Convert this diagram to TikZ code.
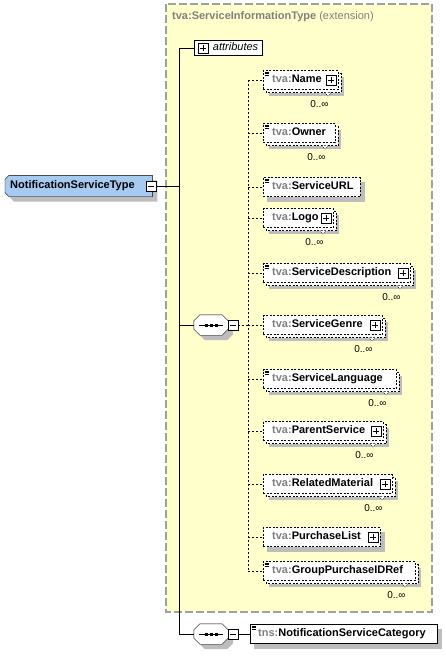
\documentclass[tikz,border=0pt]{standalone}
\usepackage{fontspec}
\setmainfont{Liberation Sans}
\definecolor{basefill}{HTML}{FFFFCC}
\definecolor{baseedge}{HTML}{A0A0A0}
\definecolor{rootfill}{HTML}{A6CAF0}
\definecolor{prefix}{HTML}{808080}
\definecolor{shadowgray}{HTML}{BDBDBD}
\pgfdeclarelayer{basebg}
\pgfdeclarelayer{shadows}
\pgfsetlayers{basebg,shadows,main}
\tikzset{
  elem/.style={draw, fill=white, anchor=west, align=left,
    font=\fontsize{11}{13}\selectfont\bfseries, inner xsep=9pt, inner ysep=0pt,
    text height=8pt, text depth=3pt, minimum height=19pt,
    dash pattern=on 2pt off 1.5pt},
  mult/.style={font=\fontsize{10}{11}\selectfont, inner sep=0pt},
  plusbox/.style={draw, solid, fill=white, minimum size=10pt, inner sep=0pt,
    path picture={
      \draw ([xshift=2pt]path picture bounding box.west) -- ([xshift=-2pt]path picture bounding box.east);
      \draw ([yshift=-2pt]path picture bounding box.north) -- ([yshift=2pt]path picture bounding box.south);}},
  minusbox/.style={draw, fill=white, minimum size=10pt, inner sep=0pt,
    path picture={
      \draw ([xshift=2pt]path picture bounding box.west) -- ([xshift=-2pt]path picture bounding box.east);}},
  seqbox/.style={minimum width=34pt, minimum height=20pt, inner sep=0pt},
  dlink/.style={dash pattern=on 2pt off 2pt},
}
\begin{document}
\begin{tikzpicture}[x=1pt, y=-1pt]
\useasboundingbox (0,0) rectangle (445,656);
% base type
\begin{pgfonlayer}{basebg}
\draw[fill=basefill, draw=baseedge, line width=1.2pt, dash pattern=on 8pt off 3pt] (166,4) rectangle (432,612);
\end{pgfonlayer}
\node[anchor=west, font=\fontsize{11}{13}\selectfont, inner sep=0pt] (basetitle) at (172,17)
  {\textcolor{prefix}{\bfseries tva:ServiceInformationType} \textcolor{prefix}{(extension)}};

% root
\node[anchor=west, align=left, text width=137pt, inner xsep=5pt, inner ysep=0pt,
  minimum height=21pt, text height=8pt, text depth=3pt,
  font=\fontsize{11}{13}\selectfont\bfseries] (root) at (5,186) {NotificationServiceType};
\node[minusbox] (rootm) at (151,186) {};

\node[draw, fill=white, anchor=west, text width=60pt, align=right, inner xsep=4pt, inner ysep=0pt,
  minimum height=15pt, text height=8pt, text depth=3pt,
  font=\fontsize{11}{13}\selectfont\itshape] (attr) at (194,48) {attributes};
\node[plusbox] (attrp) at (203,48) {};

\node[seqbox] (seqa) at (211,325) {};
\node[seqbox] (seqb) at (211,634) {};

% shadows of the element boxes (left edge, centre y, width)
\foreach \l/\y/\w in {263/187/97, 263/537/117, 250/634/187}
  \fill[shadowgray] (\l+4,\y-5.5) rectangle (\l+\w+5,\y+14.5);
\foreach \l/\y/\w in {263/80/75, 263/133/72, 263/218/70, 263/273/147, 263/325/119,
    263/379/133, 263/431/120, 263/484/129, 263/571/152} {
  \fill[shadowgray] (\l+6,\y-3.5) rectangle (\l+\w+6,\y+15.5);
  \draw[fill=white, dash pattern=on 2pt off 1.5pt] (\l+3,\y-6.5) rectangle (\l+\w+3,\y+12.5);
  \draw[fill=white, dash pattern=on 1pt off 1pt] (\l+\w-13,\y+12.5) -- (\l+\w-10,\y+16) -- (\l+\w-7,\y+12.5);
}

% elements
\node[elem, text width=57pt] (name) at (263,80) {\textcolor{prefix}{tva:}Name};
\node[elem, text width=54pt] (owner) at (263,133) {\textcolor{prefix}{tva:}Owner};
\node[elem, text width=79pt] (url) at (263,187) {\textcolor{prefix}{tva:}ServiceURL};
\node[elem, text width=52pt] (logo) at (263,218) {\textcolor{prefix}{tva:}Logo};
\node[elem, text width=129pt] (descr) at (263,273) {\textcolor{prefix}{tva:}ServiceDescription};
\node[elem, text width=101pt] (genre) at (263,325) {\textcolor{prefix}{tva:}ServiceGenre};
\node[elem, text width=115pt] (lang) at (263,379) {\textcolor{prefix}{tva:}ServiceLanguage};
\node[elem, text width=102pt] (parent) at (263,431) {\textcolor{prefix}{tva:}ParentService};
\node[elem, text width=111pt] (related) at (263,484) {\textcolor{prefix}{tva:}RelatedMaterial};
\node[elem, text width=99pt] (purchase) at (263,537) {\textcolor{prefix}{tva:}PurchaseList};
\node[elem, text width=134pt] (group) at (263,571) {\textcolor{prefix}{tva:}GroupPurchaseIDRef};
\node[elem, solid, inner xsep=8pt, text width=171pt] (category) at (250,634)
  {\textcolor{prefix}{tns:}NotificationServiceCategory};

% root and sequence outlines
\begin{pgfonlayer}{shadows}
\fill[shadowgray] ([shift={(9,5)}]root.north west) -- ([shift={(5,5)}]root.north east)
  -- ([shift={(5,5)}]root.south east) -- ([shift={(9,5)}]root.south west)
  -- ([shift={(5,1)}]root.south west) -- ([shift={(5,9)}]root.north west) -- cycle;
\filldraw[fill=rootfill] ([xshift=4pt]root.north west) -- (root.north east) -- (root.south east)
  -- ([xshift=4pt]root.south west) -- ([yshift=4pt]root.south west) -- ([yshift=-4pt]root.north west) -- cycle;
\foreach \s in {seqa,seqb} {
  \fill[shadowgray] ([shift={(11,5)}]\s.north west) -- ([shift={(-1,5)}]\s.north east) -- ([shift={(5,11)}]\s.north east)
    -- ([shift={(5,-1)}]\s.south east) -- ([shift={(-1,5)}]\s.south east) -- ([shift={(11,5)}]\s.south west)
    -- ([shift={(5,-1)}]\s.south west) -- ([shift={(5,11)}]\s.north west) -- cycle;
  \filldraw[fill=white] ([xshift=6pt]\s.north west) -- ([xshift=-6pt]\s.north east) -- ([yshift=-6pt]\s.north east)
    -- ([yshift=6pt]\s.south east) -- ([xshift=-6pt]\s.south east) -- ([xshift=6pt]\s.south west)
    -- ([yshift=6pt]\s.south west) -- ([yshift=-6pt]\s.north west) -- cycle;
}
\end{pgfonlayer}

\node[minusbox] (seqam) at (233,325) {};
\node[minusbox] (seqbm) at (233,634) {};
\foreach \s in {seqa,seqb} {
  \draw ([xshift=-12pt]\s.center) -- ([xshift=12pt]\s.center);
  \foreach \d in {-5,0,5}
    \fill ([shift={(\d-1.5,-1.5)}]\s.center) rectangle ++(3,3);
}

\foreach \e in {name,logo,descr,genre,parent,related,purchase}
  \node[plusbox] (\e p) at ([xshift=-7pt]\e.east) {};
\foreach \e in {name,owner,logo,descr,genre,lang,parent,related,group}
  \node[mult] (\e m) at ([xshift=-19pt,yshift=-14.5pt]\e.south east) {0..∞};
\foreach \e in {name,owner,url,descr,lang,group,category}
  \foreach \d in {1.5,3,4.5}
    \draw[solid, line width=0.6pt] ([shift={(1.5,\d)}]\e.north west) -- ++(4.5,0);

% connectors
\coordinate (trunk) at (179,186);
\coordinate (bus) at (248,325);
\draw (rootm.east) -- (trunk);
\draw (trunk |- attr.west) -- (trunk |- seqb.west);
\foreach \n in {attr,seqa,seqb}
  \draw (trunk |- \n.west) -- (\n.west);
\draw (seqbm.east) -- (category.west);
\draw[dlink] (seqam.east) -- (bus);
\draw[dlink] (bus |- name.west) -- (bus |- group.west);
\foreach \e in {name,owner,url,logo,descr,genre,lang,parent,related,purchase,group}
  \draw[dlink] (bus |- \e.west) -- (\e.west);
\end{tikzpicture}
\end{document}
